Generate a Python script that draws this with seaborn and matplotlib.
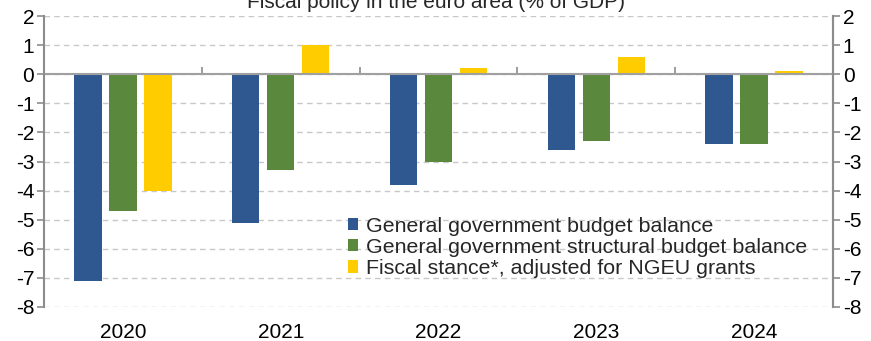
import matplotlib
matplotlib.use("Agg")
import matplotlib.pyplot as plt
import seaborn as sns
import pandas as pd
import numpy as np

years = ["2020", "2021", "2022", "2023", "2024"]
series = ["General government budget balance",
          "General government structural budget balance",
          "Fiscal stance*, adjusted for NGEU grants"]
budget_balance = [-7.1, -5.1, -3.8, -2.6, -2.4]
structural_balance = [-4.7, -3.3, -3.0, -2.3, -2.4]
fiscal_stance = [-4.0, 1.0, 0.2, 0.6, 0.1]
yticks = [2, 1, 0, -1, -2, -3, -4, -5, -6, -7, -8]
title = "Fiscal policy in the euro area (% of GDP)"
colors = ["#2F5891", "#5A883C", "#FFCC00"]

df = pd.DataFrame({
    "year": years * 3,
    "series": [series[0]] * 5 + [series[1]] * 5 + [series[2]] * 5,
    "value": budget_balance + structural_balance + fiscal_stance,
})

sns.set_theme(style="white")
plt.rcParams["font.family"] = ["Liberation Sans", "DejaVu Sans"]

FS = 15

fig = plt.figure(figsize=(8.71, 3.41), dpi=100)
ax = fig.add_axes([44 / 871, 1 - 307 / 341, (833 - 44) / 871, (307 - 16) / 341])

sns.barplot(data=df, x="year", y="value", hue="series", palette=colors,
            width=0.665, gap=0.22, ax=ax, saturation=1, edgecolor="none")

ax.set_ylim(-8, 2)
ax.set_xlim(-0.5, 4.5)
ax.set_yticks(yticks)
ax.set_yticklabels([str(v) for v in yticks])
ax.set_xlabel("")
ax.set_ylabel("")
ax.grid(axis="y", linestyle=(0, (4, 3)), color="#C8C8C8", linewidth=1)
ax.set_axisbelow(True)
ax.axhline(0, color="#A0A0A0", linewidth=1.5, zorder=1.5)

gray = "#8C8C8C"
for s in ["top", "bottom"]:
    ax.spines[s].set_visible(False)
for s in ["left", "right"]:
    ax.spines[s].set_color(gray)
    ax.spines[s].set_linewidth(1.5)
ax.tick_params(axis="y", left=True, length=5, width=1.2, color=gray,
               labelsize=FS, labelcolor="black", pad=2)
ax.tick_params(axis="x", bottom=False, length=0, labelsize=FS,
               labelcolor="black", pad=11.5)

ax2 = ax.twinx()
ax2.set_ylim(-8, 2)
ax2.set_yticks(yticks)
ax2.set_yticklabels([str(v) for v in yticks])
for s in ["top", "bottom", "left"]:
    ax2.spines[s].set_visible(False)
ax2.spines["right"].set_color(gray)
ax2.spines["right"].set_linewidth(1.5)
ax2.tick_params(axis="y", right=True, length=5, width=1.2, color=gray,
                labelsize=FS, labelcolor="black", pad=2)

# category boundary ticks on the zero line
sec = ax.secondary_xaxis(0.8)
sec.set_xticks(np.arange(len(years) + 1) - 0.5)
sec.set_xticklabels([])
sec.spines["bottom"].set_visible(False)
sec.tick_params(axis="x", length=5, width=1.2, color=gray, direction="out")

leg = ax.legend(loc="upper left", bbox_to_anchor=(0.385, 0.31), frameon=False,
                fontsize=15.4, handlelength=0.5, handleheight=0.5,
                handletextpad=0.35, labelspacing=0.1, borderaxespad=0,
                borderpad=0)

fig.text(0.5, 1 - 8 / 341, title, ha="center", va="baseline", fontsize=FS)

fig.savefig("out.png", dpi=100)
